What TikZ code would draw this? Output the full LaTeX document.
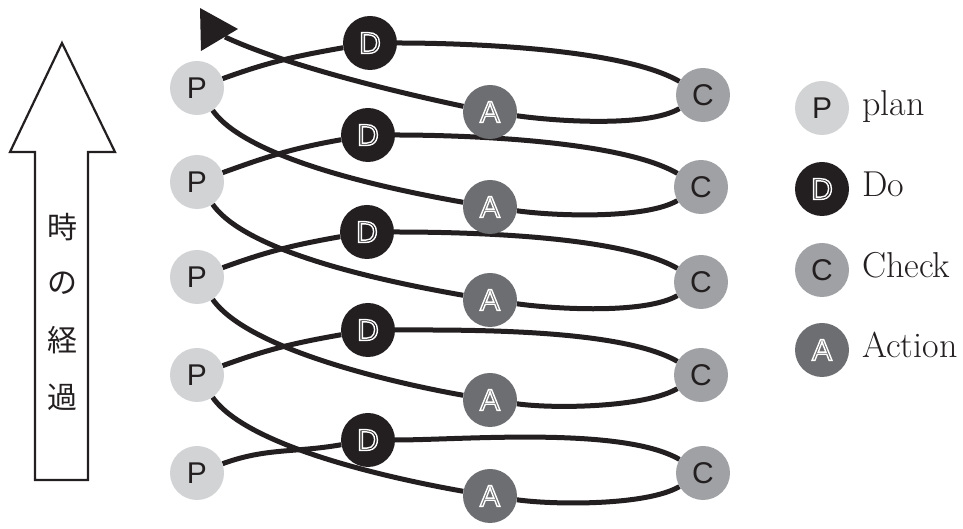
\documentclass[tikz,border=0pt]{standalone}
\usepackage{fontspec}
\newfontfamily\lsans{Liberation Sans}
\newfontfamily\cjk{Noto Sans CJK JP}
\usetikzlibrary{backgrounds}
\definecolor{pcol}{HTML}{D1D3D4}
\definecolor{dcol}{HTML}{231F20}
\definecolor{ccol}{HTML}{A0A1A4}
\definecolor{acol}{HTML}{6D6E71}
\definecolor{ink}{HTML}{231F20}
% outlined letter: fill colour (rgb) with a white stroke
\newcommand\outlet[2]{\special{pdf:bcolor [#1] [1 1 1]}\special{pdf:literal direct 2 Tr 1.4 w}#2\special{pdf:literal direct 0 Tr}\special{pdf:ecolor}}
\newcommand\dlet{\outlet{0.137 0.122 0.125}{D}}
\newcommand\alet{\outlet{0.427 0.431 0.443}{A}}
\tikzset{
  stage/.style={circle, minimum size=54pt, inner sep=0pt,
    font=\lsans\fontsize{30}{30}\selectfont},
  pnode/.style={stage, fill=pcol, text=ink},
  dnode/.style={stage, fill=dcol, text=dcol},
  cnode/.style={stage, fill=ccol, text=ink},
  anode/.style={stage, fill=acol, text=acol},
  flow/.style={line width=5pt, draw=ink},
  legtext/.style={anchor=base west, inner sep=0pt, text=ink,
    font=\fontsize{36}{36}\selectfont},
  timechar/.style={inner sep=0pt, text=ink, font=\cjk\fontsize{30}{30}\selectfont},
}
\begin{document}
\begin{tikzpicture}[x=1pt,y=1pt]
\useasboundingbox (0,0) rectangle (963,529);
% time arrow
\draw[line width=2.2pt, draw=ink, line join=miter]
  (62,486) -- (115,377) -- (88,377) -- (88,49) -- (35,49) -- (35,377) -- (10,377) -- cycle;
\node[timechar] (t1) at (62,302) {時};
\node[timechar] (t2) at (62,246) {の};
\node[timechar] (t3) at (62,189) {経};
\node[timechar] (t4) at (62,132) {過};
% stages
\node[pnode] (P1) at (197,441) {P};
\node[dnode] (D1) at (370,486) {\dlet};
\node[anode] (A1) at (490,417) {\alet};
\node[cnode] (C1) at (703,434) {C};
\node[pnode] (P2) at (197,347) {P};
\node[dnode] (D2) at (368,394) {\dlet};
\node[anode] (A2) at (490,322) {\alet};
\node[cnode] (C2) at (701,342) {C};
\node[pnode] (P3) at (197,252) {P};
\node[dnode] (D3) at (367,297) {\dlet};
\node[anode] (A3) at (490,229) {\alet};
\node[cnode] (C3) at (701,247) {C};
\node[pnode] (P4) at (197,154) {P};
\node[dnode] (D4) at (368,199) {\dlet};
\node[anode] (A4) at (490,129) {\alet};
\node[cnode] (C4) at (701,154) {C};
\node[pnode] (P5) at (197,56) {P};
\node[dnode] (D5) at (368,89) {\dlet};
\node[anode] (A5) at (490,33) {\alet};
\node[cnode] (C5) at (703,56) {C};
\coordinate (aend) at (225,492);
% legend
\node[pnode] (LP) at (822,421) {P};
\node[dnode] (LD) at (822,340) {\dlet};
\node[cnode] (LC) at (822,259) {C};
\node[anode] (LA) at (822,179) {\alet};
\node[legtext] (lp) at (862,413) {plan};
\node[legtext] (ld) at (862,332) {Do};
\node[legtext] (lc) at (862,251) {Check};
\node[legtext] (la) at (862,171) {Action};
% flow lines
\begin{scope}[on background layer]
\foreach \i in {1,...,5}{
  \draw[flow] (P\i) to[out=20,in=190] (D\i);
  \draw[flow] (D\i) to[out=0,in=150,looseness=0.6] (C\i);
  \draw[flow] (C\i) to[out=210,in=-8,looseness=0.6] (A\i);
}
\foreach \i/\j in {5/4,4/3,3/2,2/1}{
  \draw[flow] (A\i) to[out=170,in=-55,looseness=0.6] (P\j);
}
\draw[flow] (A1) to[out=168,in=-25,looseness=0.7] (aend);
\fill[ink] (200,521) -- (201,478) -- (238,500) -- cycle;
\end{scope}
\end{tikzpicture}
\end{document}
